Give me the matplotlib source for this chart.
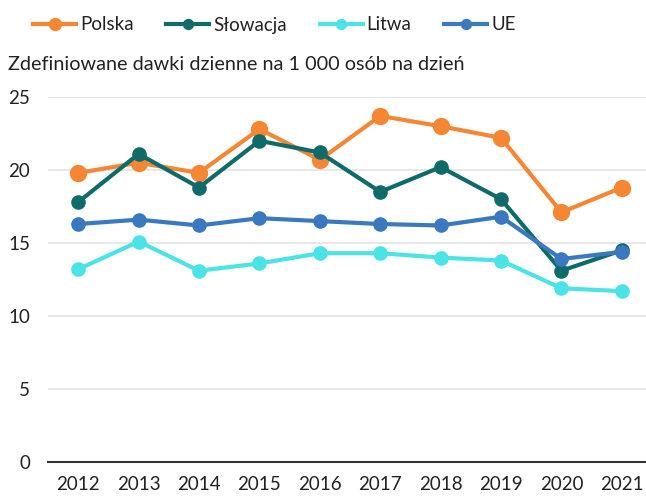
import matplotlib
matplotlib.use("Agg")
import matplotlib.pyplot as plt

# Dane
lata = [2012, 2013, 2014, 2015, 2016, 2017, 2018, 2019, 2020, 2021]
polska = [19.8, 20.5, 19.8, 22.8, 20.7, 23.7, 23.0, 22.2, 17.1, 18.8]
slowacja = [17.8, 21.1, 18.8, 22.0, 21.2, 18.5, 20.2, 18.0, 13.1, 14.5]
litwa = [13.2, 15.1, 13.1, 13.6, 14.3, 14.3, 14.0, 13.8, 11.9, 11.7]
ue = [16.3, 16.6, 16.2, 16.7, 16.5, 16.3, 16.2, 16.8, 13.9, 14.4]

serie = [
    ("Polska", polska, "#F58634", 11.5),
    ("Słowacja", slowacja, "#0F6B69", 9.5),
    ("Litwa", litwa, "#4BE3E6", 9.5),
    ("UE", ue, "#3A78BF", 9.5),
]

plt.rcParams["font.family"] = ["Lato", "DejaVu Sans"]

fig = plt.figure(figsize=(6.46, 4.97), dpi=100)
ax = fig.add_axes([48 / 646, 35 / 497, 1 - 48 / 646, 365 / 497])

for nazwa, wartosci, kolor, ms in serie:
    ax.plot(lata, wartosci, color=kolor, linewidth=3, marker="o",
            markersize=ms, label=nazwa, clip_on=False, zorder=3)

ax.set_xlim(2011.5, 2021.4)
ax.set_ylim(0, 25)
ax.set_yticks([0, 5, 10, 15, 20, 25])
ax.set_xticks(lata)
ax.grid(axis="y", color="#e3e3e3", linewidth=1.2)
ax.set_axisbelow(True)
for s in ["top", "right", "left"]:
    ax.spines[s].set_visible(False)
ax.spines["bottom"].set_color("#333333")
ax.spines["bottom"].set_linewidth(1.5)
ax.tick_params(axis="both", length=0, labelsize=13.5, colors="#222222")
ax.tick_params(axis="x", pad=10)
ax.tick_params(axis="y", pad=13)

fig.text(8 / 646, 1 - 65 / 497, "Zdefiniowane dawki dzienne na 1 000 osób na dzień",
         fontsize=14.3, color="#222222", va="center", ha="left")

fig.legend(loc="center left", bbox_to_anchor=(33 / 646, 1 - 25 / 497), ncol=4,
           frameon=False, fontsize=13.5, handlelength=2.3, handletextpad=0.2,
           columnspacing=1.75, markerscale=0.75, borderaxespad=0, borderpad=0,
           labelcolor="#222222")

fig.savefig("out.png", dpi=100)
